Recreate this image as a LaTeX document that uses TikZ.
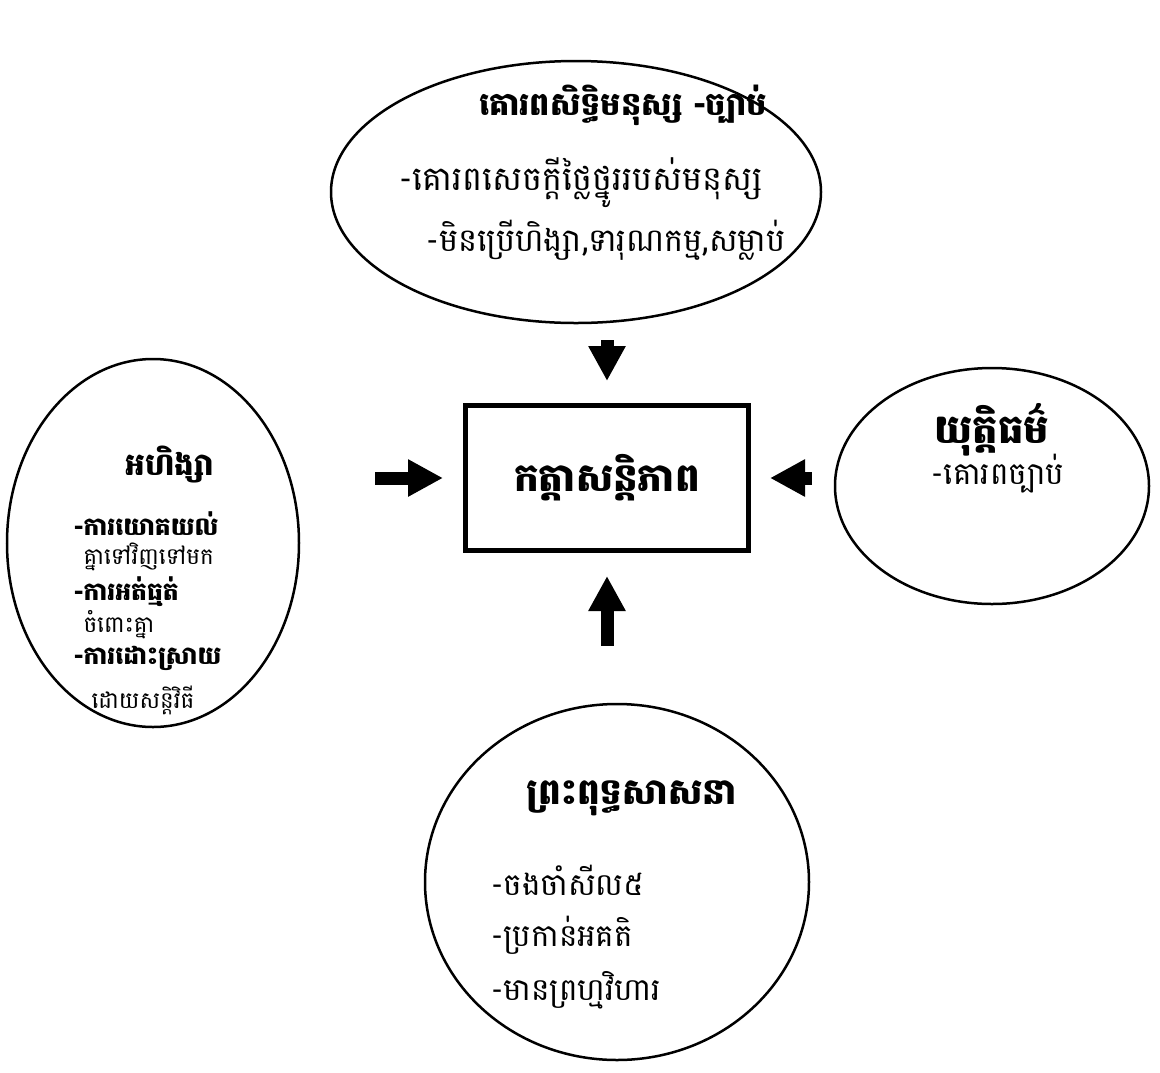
\documentclass[tikz,border=0pt]{standalone}
\usepackage{fontspec}
\newfontfamily\khmer[Script=Khmer]{Battambang}
\usetikzlibrary{arrows.meta,positioning,shapes.geometric}
\tikzset{
    %Define standard arrow tip
    >={Triangle[length=35pt,width=35pt]},
    %Define style for the themes
    theme/.style={
           ellipse,
           draw=black, line width=2.5pt,
           inner sep=0pt},
    peacebox/.style={
           rectangle,
           draw=black, line width=5pt,
           minimum width=283pt,
           minimum height=145pt,
           font=\khmer\bfseries\fontsize{39}{44}\selectfont,
           text centered},
    headtext/.style={
           font=\khmer\bfseries\fontsize{#1}{#1}\selectfont},
    headtext/.default=32,
    itemtext/.style={
           font=\khmer\fontsize{#1}{#1}\selectfont},
    itemtext/.default=32,
    % Define arrow style
    pil/.style={
           ->,
           line width=13pt}
}
\begin{document}
\begin{tikzpicture}[x=1pt,y=-1pt]
\useasboundingbox (0,0) rectangle (1160,1072);

 %nodes
\node[peacebox](peace) at (607,478){កត្តាសន្តិភាព};
\node[theme, minimum width=490pt, minimum height=262pt](rights) at (576,192){};
\node[theme, minimum width=292pt, minimum height=368pt](nonviol) at (153,543){};
\node[theme, minimum width=314pt, minimum height=236pt](justice) at (992,486){};
\node[theme, minimum width=384pt, minimum height=356pt](buddha) at (617,882){};

 %texts
\node[headtext=32](rightsT) at (623,105){គោរពសិទ្ធិមនុស្ស -ច្បាប់};
\node[itemtext=33.5](rights1) at (581,183){-គោរពសេចក្តីថ្លៃថ្នូររបស់មនុស្ស};
\node[itemtext=32](rights2) at (606,240){-មិនប្រើហិង្សា,ទារុណកម្ម,សម្លាប់};

\node[headtext=40](justiceT) at (992,430){យុត្តិធម៌};
\node[itemtext=31](justice1) at (998,474){-គោរពច្បាប់};

\node[headtext=36](buddhaT) at (632,798){ព្រះពុទ្ធសាសនា};
\node[itemtext=31, anchor=west](buddha1) at (488,880){-ចងចាំសីល៥};
\node[itemtext=31, anchor=west](buddha2) at (488,935){-ប្រកាន់អគតិ};
\node[itemtext=31, anchor=west](buddha3) at (488,990){-មានព្រហ្មវិហារ};

\node[headtext=31](nonviolT) at (170,465){អហិង្សា};
\node[headtext=25, anchor=west](nonviol1) at (70,524){-ការយោគយល់};
\node[itemtext=23, anchor=west](nonviol2) at (80,557){គ្នាទៅវិញទៅមក};
\node[headtext=25, anchor=west](nonviol3) at (70,592){-ការអត់ធ្មត់};
\node[itemtext=23, anchor=west](nonviol4) at (80,625){ចំពោះគ្នា};
\node[headtext=25, anchor=west](nonviol5) at (70,658){-ការដោះស្រាយ};
\node[itemtext=23, anchor=west](nonviol6) at (88,700){ដោយសន្តិវិធី};

 %arrows
\draw[pil, shorten <=16pt, shorten >=22pt] (peace.north |- rights.south) -- (peace.north);
\draw[pil, shorten <=75pt, shorten >=20pt] (peace.west -| nonviol.east) -- (peace.west);
\draw[pil, shorten <=22pt, shorten >=19pt] (peace.east -| justice.west) -- (peace.east);
\draw[pil, shorten <=57pt, shorten >=23pt] (buddha.north -| peace.south) -- (peace.south);

\end{tikzpicture}
\end{document}
